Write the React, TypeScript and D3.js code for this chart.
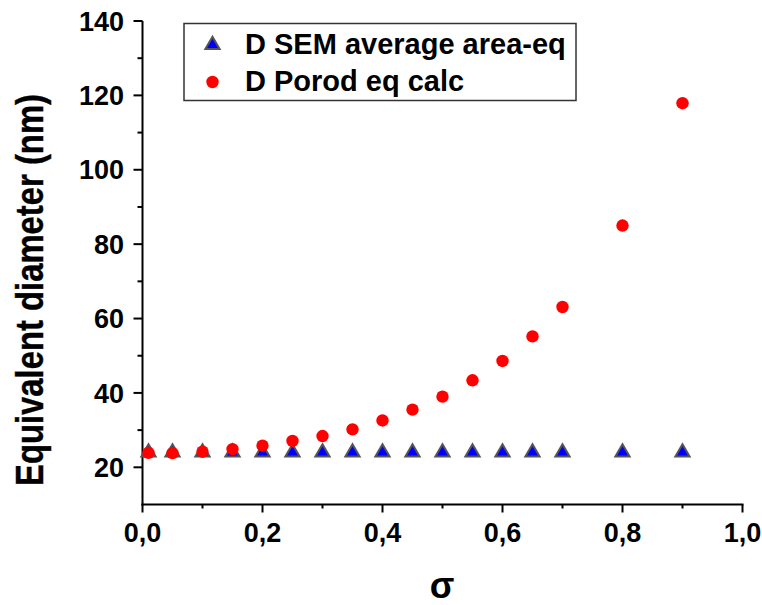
import React from "react";
import * as d3 from "d3";

const sigma = [0.01, 0.05, 0.1, 0.15, 0.2, 0.25, 0.3, 0.35, 0.4, 0.45, 0.5, 0.55, 0.6, 0.65, 0.7, 0.8, 0.9];
const dSEM = [24, 24, 24, 24, 24, 24, 24, 24, 24, 24, 24, 24, 24, 24, 24, 24, 24];
const dPorod = [23.9, 23.8, 24.2, 24.9, 25.8, 27.1, 28.4, 30.2, 32.6, 35.5, 39.0, 43.4, 48.6, 55.2, 63.1, 85.0, 117.9];

const xMajorTicks = [0, 0.2, 0.4, 0.6, 0.8, 1.0];
const xTickLabels = ["0,0", "0,2", "0,4", "0,6", "0,8", "1,0"];
const xMinorTicks = [0.1, 0.3, 0.5, 0.7, 0.9];
const yMajorTicks = [20, 40, 60, 80, 100, 120, 140];
const yTickLabels = ["20", "40", "60", "80", "100", "120", "140"];
const yMinorTicks = [30, 50, 70, 90, 110, 130];

const seriesNames = ["D SEM average area-eq", "D Porod eq calc"];
const xTitle = "σ";
const yTitle = "Equivalent diameter (nm)";

const FONT = "'Liberation Sans', Arial, sans-serif";

export default function App() {
  const x = d3.scaleLinear().domain([0, 1]).range([142.5, 742.5]);
  const y = d3.scaleLinear().domain([10, 140]).range([504.5, 21]);
  const tri = d3.symbol().type(d3.symbolTriangle).size(88);
  const triPath = tri() as string;

  const [x0, x1] = x.range();
  const [y0, y1] = y.range();

  return (
    <svg
      width={762}
      height={605}
      style={{ position: "absolute", left: 0, top: 0, background: "#fff" }}
      fontFamily={FONT}
      fontWeight="bold"
    >
      <rect x={0} y={0} width={762} height={605} fill="#fff" />
      {/* axes */}
      <g stroke="#000" strokeWidth={2} fill="none">
        <line x1={x0 - 1} x2={x1 + 1} y1={y0} y2={y0} />
        <line x1={x0} x2={x0} y1={y0 + 1} y2={y1} />
        {xMajorTicks.map((t) => (
          <line key={"xM" + t} x1={x(t)} x2={x(t)} y1={y0} y2={y0 + 8} />
        ))}
        {xMinorTicks.map((t) => (
          <line key={"xm" + t} x1={x(t)} x2={x(t)} y1={y0} y2={y0 + 4} />
        ))}
        {yMajorTicks.map((t) => (
          <line key={"yM" + t} x1={x0} x2={x0 - 9} y1={y(t)} y2={y(t)} />
        ))}
        {yMinorTicks.map((t) => (
          <line key={"ym" + t} x1={x0} x2={x0 - 5} y1={y(t)} y2={y(t)} />
        ))}
      </g>
      {/* tick labels */}
      <g fontSize={27} fill="#000">
        {xMajorTicks.map((t, i) => (
          <text key={"xl" + t} x={x(t)} y={542} textAnchor="middle">
            {xTickLabels[i]}
          </text>
        ))}
        {yMajorTicks.map((t, i) => (
          <text key={"yl" + t} x={124} y={y(t) + 9.7} textAnchor="end">
            {yTickLabels[i]}
          </text>
        ))}
      </g>
      {/* axis titles */}
      <text x={442} y={598} textAnchor="middle" fontSize={36} fill="#000">
        {xTitle}
      </text>
      <text
        transform={`translate(43,290) rotate(-90)`}
        textAnchor="middle"
        fontSize={38}
        fill="#000"
        stroke="#000"
        strokeWidth={0.4}
        textLength={392}
        lengthAdjust="spacingAndGlyphs"
      >
        {yTitle}
      </text>
      {/* data */}
      <g>
        {sigma.map((s, i) => (
          <path
            key={"t" + i}
            d={triPath}
            transform={`translate(${x(s)},${y(dSEM[i])})`}
            fill="#0000ff"
            stroke="#555"
            strokeWidth={2}
          />
        ))}
        {sigma.map((s, i) => (
          <circle key={"c" + i} cx={x(s)} cy={y(dPorod[i])} r={6.2} fill="#ff0000" />
        ))}
      </g>
      {/* legend */}
      <g>
        <rect x={184} y={23.5} width={392} height={77} fill="#fff" stroke="#333" strokeWidth={1.5} />
        <path d={triPath} transform="translate(212.5,45)" fill="#0000ff" stroke="#555" strokeWidth={2} />
        <circle cx={212.5} cy={82} r={6.2} fill="#ff0000" />
        <text x={245} y={53.5} fontSize={29} fill="#000">
          {seriesNames[0]}
        </text>
        <text x={245} y={91} fontSize={29} fill="#000">
          {seriesNames[1]}
        </text>
      </g>
    </svg>
  );
}
